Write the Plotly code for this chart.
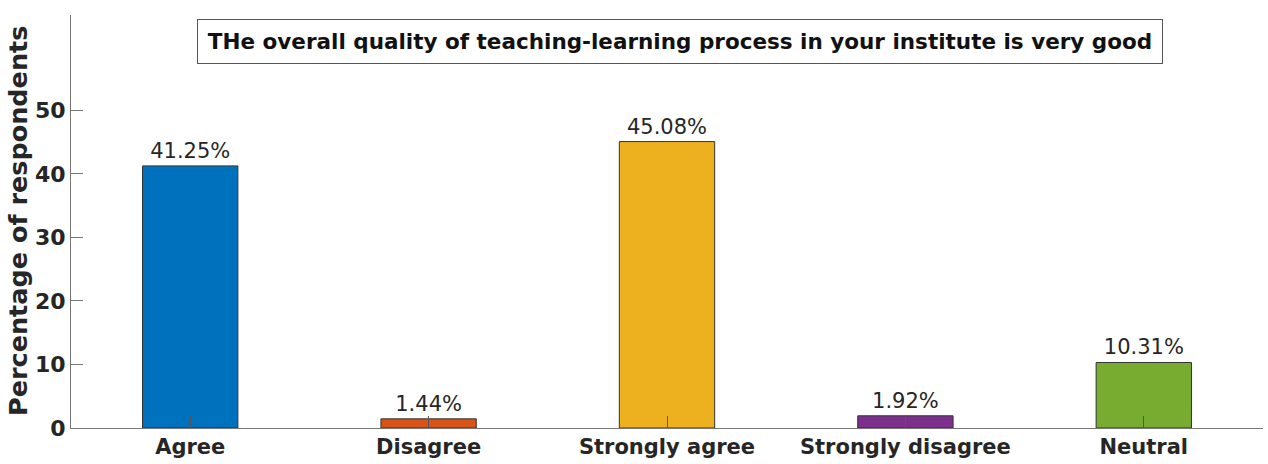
import plotly.graph_objects as go

categories = ["Agree", "Disagree", "Strongly agree", "Strongly disagree", "Neutral"]
values = [41.25, 1.44, 45.08, 1.92, 10.31]
bar_colors = ["#0072BD", "#D95319", "#EDB120", "#7E2F8E", "#77AC30"]
y_ticks = [0, 10, 20, 30, 40, 50]
title_text = "THe overall quality of teaching-learning process in your institute is very good"
y_title = "Percentage of respondents"

fig = go.Figure()
fig.add_trace(go.Bar(
    x=categories, y=values,
    marker=dict(color=bar_colors, line=dict(color="#333333", width=1)),
    width=0.4,
    text=[f"{v:.2f}%" for v in values],
    textposition="outside",
    textfont=dict(family="DejaVu Sans", size=21, color="#262626"),
    cliponaxis=False,
))

fig.update_layout(
    width=1268, height=464,
    margin=dict(l=71, r=5, t=15, b=36),
    paper_bgcolor="white", plot_bgcolor="white",
    showlegend=False,
    annotations=[
        dict(
            text="<b>" + title_text + "</b>",
            xref="paper", yref="paper", x=0.511, y=0.935,
            xanchor="center", yanchor="middle", showarrow=False,
            font=dict(family="DejaVu Sans", size=21.5, color="#111111"),
            bordercolor="#555555", borderwidth=1, borderpad=9,
            width=946, bgcolor="white",
        ),
        dict(
            text="<b>" + y_title + "</b>",
            xref="paper", yref="paper", x=-0.0445, y=0.501,
            xanchor="center", yanchor="middle", showarrow=False, textangle=-90,
            font=dict(family="DejaVu Sans", size=25.5, color="#262626"),
            borderpad=0,
        ),
    ],
)
fig.update_xaxes(
    range=[-0.5, 4.5], showline=True, linecolor="#777777", linewidth=1,
    ticks="inside", ticklen=12, tickcolor="#555555",
    tickfont=dict(family="DejaVu Sans", size=21, color="#262626", weight="bold"),
    showgrid=False, zeroline=False, automargin=False,
)
fig.update_yaxes(
    range=[0, 65], tickvals=y_ticks, showline=True, linecolor="#777777", linewidth=1,
    ticks="inside", ticklen=12, tickcolor="#777777",
    tickfont=dict(family="DejaVu Sans", size=22, color="#262626", weight="bold"),
    showgrid=False, zeroline=False, automargin=False,
)
fig.write_html("out.html", config={"displayModeBar": False},
               post_script="document.body.style.margin='0px';")
